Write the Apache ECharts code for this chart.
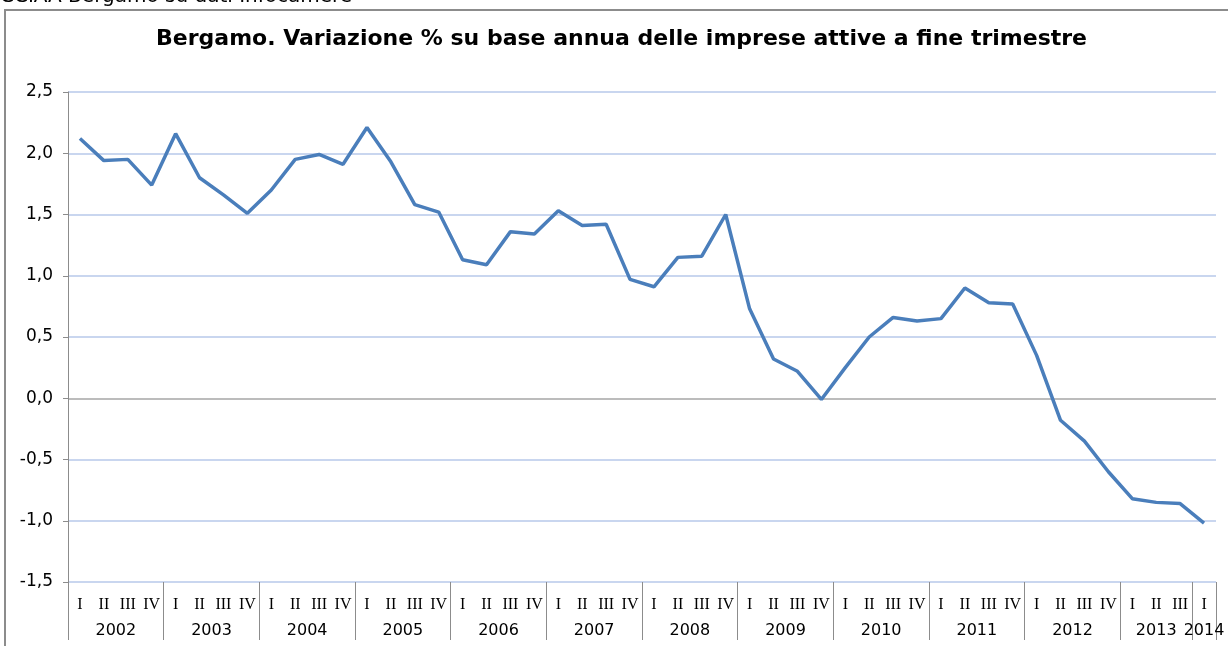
<!DOCTYPE html>
<html>
<head>
<meta charset="utf-8">
<script src="https://cdn.jsdelivr.net/npm/echarts@6/dist/echarts.min.js"></script>
<style>
  html, body { margin: 0; padding: 0; background: #fff; }
  #chart-container { width: 1228px; height: 646px; }
</style>
</head>
<body>
<div id="chart-container"></div>
<script>
var dom = document.getElementById('chart-container');
var myChart = echarts.init(dom, null, { renderer: 'canvas' });

// anni e numero di trimestri disponibili per anno
var years = ['2002', '2003', '2004', '2005', '2006', '2007', '2008', '2009', '2010', '2011', '2012', '2013', '2014'];
var quartersPerYear = [4, 4, 4, 4, 4, 4, 4, 4, 4, 4, 4, 3, 1];
var quarterNames = ['I', 'II', 'III', 'IV'];

// variazione % su base annua
var values = [
  2.12, 1.94, 1.95, 1.74,
  2.16, 1.80, 1.66, 1.51,
  1.70, 1.95, 1.99, 1.91,
  2.21, 1.93, 1.58, 1.52,
  1.13, 1.09, 1.36, 1.34,
  1.53, 1.41, 1.42, 0.97,
  0.91, 1.15, 1.16, 1.50,
  0.73, 0.32, 0.22, -0.01,
  0.25, 0.50, 0.66, 0.63,
  0.65, 0.90, 0.78, 0.77,
  0.35, -0.18, -0.35, -0.60,
  -0.82, -0.85, -0.86,
  -1.02
];

var yTicks = [-1.5, -1.0, -0.5, 0.0, 0.5, 1.0, 1.5, 2.0, 2.5];

// etichette trimestri (primo livello)
var quarterLabels = [];
years.forEach(function (y, i) {
  for (var q = 0; q < quartersPerYear[i]; q++) quarterLabels.push(quarterNames[q]);
});

// secondo livello: mezze posizioni tra i trimestri (boundaryGap false)
var n = quarterLabels.length;
var yearSlots = [];
for (var k = 0; k <= n * 2; k++) yearSlots.push('');
var boundaries = {};
var pos = 0;
years.forEach(function (y, i) {
  boundaries[pos * 2] = true;
  yearSlots[pos * 2 + quartersPerYear[i]] = y;
  pos += quartersPerYear[i];
});
boundaries[pos * 2] = true;

var gridColors = yTicks.map(function (v) { return v === 0 ? '#a6a6a6' : '#b7c8ea'; });

var option = {
  animation: false,
  backgroundColor: '#fff',
  title: {
    text: 'Bergamo. Variazione % su base annua delle imprese attive a fine trimestre',
    left: 156,
    top: 28,
    padding: 0,
    textStyle: {
      fontFamily: 'DejaVu Sans',
      fontWeight: 'bold',
      fontSize: 22,
      color: '#000'
    }
  },
  graphic: [
    {
      type: 'rect',
      shape: { x: 5, y: 10, width: 1240, height: 660 },
      style: { fill: 'none', stroke: '#8c8c8c', lineWidth: 2 },
      silent: true
    },
    {
      type: 'text',
      x: 0,
      y: 7,
      style: {
        text: 'CCIAA Bergamo su dati Infocamere',
        fontFamily: 'DejaVu Sans',
        fontSize: 20,
        fill: '#000',
        textVerticalAlign: 'bottom'
      },
      silent: true
    }
  ],
  grid: {
    left: 68,
    right: 12,
    top: 92,
    bottom: 64,
    containLabel: false
  },
  xAxis: [
    {
      type: 'category',
      data: quarterLabels,
      boundaryGap: true,
      axisLine: { show: false },
      axisTick: { show: false },
      axisLabel: {
        interval: 0,
        margin: 15,
        fontFamily: 'Liberation Serif',
        fontSize: 16,
        color: '#000'
      }
    },
    {
      type: 'category',
      data: yearSlots,
      boundaryGap: false,
      position: 'bottom',
      axisLine: { show: false },
      axisTick: {
        show: true,
        length: 58,
        interval: function (idx) { return !!boundaries[idx]; },
        lineStyle: { color: '#8c8c8c', width: 1 }
      },
      axisLabel: {
        interval: 0,
        margin: 41,
        fontFamily: 'DejaVu Sans',
        fontSize: 16,
        color: '#000',
        hideOverlap: false
      }
    }
  ],
  yAxis: {
    type: 'value',
    min: -1.5,
    max: 2.5,
    interval: 0.5,
    axisLine: { show: true, lineStyle: { color: '#8c8c8c', width: 1 } },
    axisTick: { show: true, length: 5, lineStyle: { color: '#8c8c8c' } },
    axisLabel: {
      margin: 15,
      fontFamily: 'DejaVu Sans',
      fontSize: 17,
      color: '#000',
      formatter: function (v) { return v.toFixed(1).replace('.', ','); }
    },
    splitLine: {
      show: true,
      lineStyle: { color: gridColors, width: 1.5 }
    }
  },
  series: [
    {
      type: 'line',
      data: values,
      xAxisIndex: 0,
      showSymbol: false,
      symbol: 'none',
      lineStyle: { color: '#4a7ebb', width: 3.5 },
      itemStyle: { color: '#4a7ebb' }
    }
  ]
};

myChart.setOption(option);
window.addEventListener('resize', myChart.resize);
</script>
</body>
</html>
